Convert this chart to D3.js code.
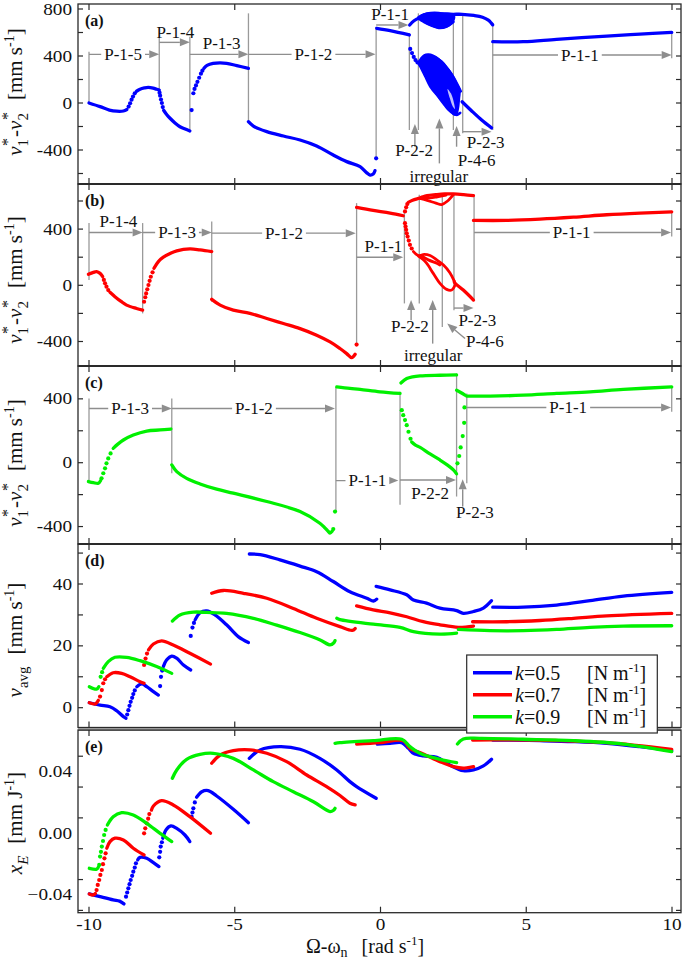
<!DOCTYPE html>
<html><head><meta charset="utf-8">
<script src="https://cdn.jsdelivr.net/npm/d3@7"></script>
<style>body{margin:0;background:#fff}svg{display:block}text{font-family:"Liberation Serif","Times New Roman",serif;fill:#111}</style>
</head><body><svg id="c" width="685" height="959"></svg>
<script>
// ---------------- DATA ----------------
const xTickVals = [-10, -5, 0, 5, 10];
const xTickLabels = ["-10", "-5", "0", "5", "10"];

// Panel (a) k=0.5
const aL1 = [[-10,0],[-9.62,-31],[-9.3,-60],[-9.05,-70],[-8.82,-68],[-8.7,-55]];
const aD1 = [[-8.64,-30],[-8.59,-2],[-8.54,28],[-8.49,55],[-8.43,82]];
const aL2 = [[-8.37,100],[-8.25,117],[-8.1,128],[-7.97,133],[-7.8,127],[-7.68,117],[-7.59,110]];
const aD2 = [[-7.58,88],[-7.56,62],[-7.53,30],[-7.5,0],[-7.47,-35]];
const aL3 = [[-7.44,-62],[-7.33,-100],[-7.22,-130],[-7.05,-170],[-6.88,-202],[-6.7,-222],[-6.54,-238]];
const aD3 = [[-6.48,-60],[-6.42,83],[-6.38,120],[-6.33,150],[-6.28,180],[-6.22,215],[-6.16,250],[-6.11,275]];
const aL4 = [[-6.06,295],[-5.95,320],[-5.74,338],[-5.5,342],[-5.28,338],[-4.93,318],[-4.53,295]];
const aL5 = [[-4.53,-159],[-4.36,-196],[-3.9,-244],[-3.33,-281],[-2.76,-315],[-2.19,-366],[-1.62,-443],[-1.16,-499],[-0.7,-542],[-0.47,-595],[-0.36,-613],[-0.25,-604],[-0.19,-576]];
const aD5 = [[-0.15,-471]];
const aL6 = [[-0.13,635],[0.33,615],[0.99,579]];
const aL7 = [[1.0,664],[1.15,700],[1.35,725],[1.7,745],[2.1,755],[2.5,755],[2.8,755],[3.2,745],[3.5,730],[3.7,705],[3.8,680],[3.85,665]];
const aUfill = [[1.3,722],[1.5,755],[1.8,764],[2.1,764],[2.4,758],[2.52,745],[2.5,700],[2.35,660],[2.15,640],[1.95,642],[1.7,665],[1.45,700]];
const aU1 = [[1.3,720],[1.5,690],[1.75,660],[2.0,640],[2.25,650],[2.5,690]];
const aU2 = [[1.3,728],[1.6,760],[2.0,765],[2.3,745],[2.5,725]];
const aU3 = [[1.4,705],[1.8,725],[2.2,700],[2.5,740]];
const aU4 = [[1.4,740],[1.8,685],[2.2,672],[2.45,705]];
const aD6 = [[1.02,460],[1.08,425],[1.14,392],[1.2,365],[1.27,345]];
const aCfill = [[1.3,338],[1.4,385],[1.5,408],[1.65,414],[1.8,404],[2.0,374],[2.2,325],[2.35,280],[2.5,222],[2.61,165],[2.72,108],[2.7,40],[2.66,-50],[2.6,-98],[2.5,-94],[2.44,-74],[2.21,-3],[1.93,68],[1.7,139],[1.53,224],[1.38,300]];
const aCgap = [[2.3,120],[2.42,80],[2.52,0],[2.55,-50],[2.48,-30],[2.38,40]];
const aC1 = [[1.33,338],[1.5,390],[1.65,405],[1.85,390],[2.1,350],[2.3,290],[2.5,220],[2.65,150],[2.75,100]];
const aC2 = [[1.35,330],[1.55,260],[1.75,170],[1.95,70],[2.15,0],[2.35,-60],[2.5,-90],[2.62,-100],[2.73,-85]];
const aL8 = [[2.8,11],[3.13,-68],[3.47,-145],[3.81,-212]];
const aL9 = [[3.85,522],[4.9,522],[6.04,542],[7.76,570],[8.9,587],[9.99,601]];

// Panel (b) k=0.7
const bL1 = [[-10.02,78],[-9.85,92],[-9.74,97],[-9.62,85],[-9.53,61]];
const bD1 = [[-9.49,38],[-9.45,14],[-9.4,-10],[-9.34,-34]];
const bL2 = [[-9.28,-50],[-9.11,-81],[-8.9,-115],[-8.71,-141],[-8.37,-165],[-8.16,-177]];
const bD2 = [[-8.11,-117],[-8.07,-85],[-8.04,-58],[-8.0,-28],[-7.96,2],[-7.92,32],[-7.88,61],[-7.82,92]];
const bL3 = [[-7.77,121],[-7.62,169],[-7.45,200],[-7.2,228],[-6.99,245],[-6.54,259],[-6.19,252],[-5.79,240]];
const bL4 = [[-5.79,-100],[-5.5,-141],[-5.05,-177],[-4.48,-200],[-3.9,-236],[-3.33,-272],[-2.76,-308],[-2.19,-355],[-1.73,-403],[-1.39,-450],[-1.16,-486],[-0.99,-515],[-0.87,-491]];
const bD4 = [[-0.82,-422]];
const bL5 = [[-0.82,554],[-0.25,533],[0.33,514],[0.78,495]];
const bD5 = [[0.84,526],[0.88,555],[0.92,578]];
const bL6 = [[0.95,590],[1.1,605],[1.35,621],[1.6,638],[1.9,645],[2.2,650],[2.5,650],[2.85,645],[3.19,638]];
const bU1 = [[1.35,618],[1.6,605],[1.9,585],[2.1,575],[2.3,600],[2.5,645]];
const bU2 = [[1.4,628],[1.7,622],[1.95,630],[2.25,642]];
const bD6 = [[0.84,442],[0.86,418],[0.88,395],[0.9,370],[0.93,347],[0.97,318],[1.01,288],[1.07,262]];
const bC1 = [[1.13,240],[1.3,212],[1.5,220],[1.7,212],[1.93,181],[2.16,145],[2.38,90],[2.53,30]];
const bC2 = [[1.3,208],[1.45,185],[1.58,157],[1.81,85],[2.04,14],[2.27,-29],[2.44,-34],[2.56,2]];
const bC3 = [[1.38,212],[1.64,181],[1.93,157],[2.04,145]];
const bL7 = [[2.53,26],[2.56,14],[2.84,-34],[3.19,-105]];
const bL8 = [[3.19,462],[4.33,462],[5.47,471],[6.62,485],[7.76,502],[8.9,514],[9.99,523]];

// Panel (c) k=0.9
const cL1 = [[-10.02,-118],[-9.85,-125],[-9.68,-129],[-9.6,-112]];
const cD1 = [[-9.57,-98],[-9.51,-66],[-9.45,-35],[-9.4,-4],[-9.34,27],[-9.26,58]];
const cL2 = [[-9.17,90],[-9.0,118],[-8.82,142],[-8.48,173],[-8.02,198],[-7.56,205],[-7.19,211]];
const cL3 = [[-7.16,-14],[-6.99,-56],[-6.65,-98],[-6.19,-133],[-5.62,-166],[-5.05,-191],[-3.9,-243],[-2.76,-306],[-2.08,-379],[-1.9,-410],[-1.79,-431],[-1.73,-441],[-1.66,-430]];
const cD3 = [[-1.62,-416],[-1.56,-306]];
const cL4 = [[-1.5,475],[-1.05,465],[-0.7,459],[-0.02,444],[0.67,434]];
const cL5 = [[0.7,500],[0.9,527],[1.1,538],[1.36,544],[2.04,548],[2.61,550]];
const cD5 = [[0.73,329],[0.78,298],[0.84,267],[0.9,235],[0.96,194],[1.03,150]];
const cL6 = [[1.07,130],[1.2,110],[1.36,96],[1.7,55],[2.04,17],[2.3,-15],[2.5,-45],[2.61,-70]];
const cL7 = [[2.61,454],[2.75,440],[2.9,423]];
const cD7 = [[2.64,-4],[2.7,42],[2.75,96],[2.82,167],[2.87,250],[2.88,346]];
const cL8 = [[2.96,417],[3.76,417],[4.9,423],[6.04,434],[7.19,444],[8.33,459],[9.99,475]];

// Panel (d) v_avg
const dB1 = [[-9.99,1.6],[-9.62,0.86],[-9.28,0.32],[-9.05,-0.98],[-8.82,-2.9],[-8.73,-3.4]];
const dBd1 = [[-8.69,-2.2],[-8.65,-0.8],[-8.61,0.6],[-8.57,1.9],[-8.52,3.2],[-8.48,4.4],[-8.43,5.6]];
const dB2 = [[-8.36,6.8],[-8.19,7.7],[-8.02,6.8],[-7.79,5.2],[-7.62,4.1]];
const dBd2 = [[-7.56,7.0],[-7.53,10.0],[-7.49,12.0]];
const dB3 = [[-7.45,13.3],[-7.34,15.4],[-7.16,16.7],[-6.99,16.0],[-6.76,13.8],[-6.51,12.2]];
const dBd3 = [[-6.51,23.2],[-6.45,25.9],[-6.4,27.4]];
const dB4 = [[-6.36,28.4],[-6.19,30.7],[-5.96,31.3],[-5.68,30.0],[-5.28,26.8],[-4.88,23.0],[-4.53,21.1]];
const dB5 = [[-4.5,49.7],[-4.13,49.5],[-3.45,47.8],[-2.76,45.8],[-2.19,44.0],[-1.62,40.8],[-1.05,37.5],[-0.47,35.4],[-0.24,34.5],[-0.13,35.1]];
const dB6 = [[-0.15,39.2],[0.33,38.1],[0.9,36.5],[1.13,34.8],[1.58,33.8],[2.04,32.2],[2.61,31.4],[2.84,30.5],[3.19,31.1],[3.53,32.2],[3.81,34.6]];
const dB7 = [[3.85,32.5],[4.9,32.5],[6.04,33.2],[7.19,34.6],[8.33,36.1],[9.99,37.3]];
const dR1 = [[-9.99,1.6],[-9.79,1.2],[-9.74,1.6],[-9.68,2.4]];
const dRd1 = [[-9.62,3.6],[-9.56,5.7],[-9.51,7.9],[-9.45,9.2]];
const dR2 = [[-9.39,10.0],[-9.17,11.3],[-8.88,11.1],[-8.59,10.0],[-8.25,8.4],[-8.11,7.9]];
const dRd2 = [[-8.11,13.8],[-8.06,15.9],[-8.01,17.5]];
const dR3 = [[-7.96,18.7],[-7.79,20.6],[-7.51,21.6],[-7.11,20.3],[-6.54,17.6],[-5.83,14.1]];
const dR4 = [[-5.79,37.0],[-5.39,37.9],[-4.7,37.0],[-3.9,35.4],[-2.99,32.1],[-2.19,28.9],[-1.39,26.2],[-0.97,25.0],[-0.87,25.6]];
const dR5 = [[-0.82,32.9],[-0.25,31.6],[0.33,30.7],[0.9,29.4],[1.47,27.8],[2.04,26.8],[2.67,26.0],[3.19,26.4]];
const dR6 = [[3.16,27.8],[4.33,27.8],[5.47,28.2],[6.62,28.9],[7.76,29.7],[9.99,30.5]];
const dG1 = [[-9.99,6.8],[-9.74,6.0],[-9.66,6.8]];
const dGd1 = [[-9.6,10.0],[-9.55,11.5]];
const dG2 = [[-9.51,12.7],[-9.34,14.9],[-9.11,16.3],[-8.71,16.3],[-8.25,15.2],[-7.68,13.3],[-7.16,11.1]];
const dG3 = [[-7.14,28.0],[-6.88,30.0],[-6.42,30.9],[-5.96,30.8],[-5.28,30.5],[-4.36,28.9],[-3.56,26.7],[-2.76,24.3],[-2.07,21.9],[-1.73,20.3],[-1.6,21.0],[-1.56,21.7]];
const dG4 = [[-1.5,28.9],[-1.39,28.5],[-0.25,27.0],[0.67,26.0],[1.13,24.6],[2.04,23.8],[2.61,24.1]];
const dG5 = [[2.67,25.3],[3.76,24.9],[4.9,24.9],[6.04,25.3],[7.19,26.0],[8.33,26.4],[9.99,26.5]];

// Panel (e) x_E
const eB1 = [[-9.99,-0.0393],[-9.62,-0.0411],[-9.17,-0.0432],[-8.95,-0.044],[-8.8,-0.0458]];
const eBd1 = [[-8.73,-0.0411],[-8.69,-0.0384],[-8.65,-0.0357],[-8.61,-0.033],[-8.57,-0.0303],[-8.52,-0.0276],[-8.48,-0.0249],[-8.43,-0.0222],[-8.39,-0.0195]];
const eB2 = [[-8.33,-0.0172],[-8.25,-0.0156],[-8.02,-0.0162],[-7.79,-0.019],[-7.6,-0.0216]];
const eBd2 = [[-7.59,-0.0156],[-7.56,-0.012],[-7.54,-0.0086],[-7.5,-0.0058]];
const eB3 = [[-7.47,-0.0032],[-7.36,0.0022],[-7.19,0.0048],[-6.99,0.0032],[-6.71,-0.0011],[-6.54,-0.0054]];
const eBd3 = [[-6.48,0.0108],[-6.45,0.0135],[-6.42,0.0162],[-6.37,0.02]];
const eB4 = [[-6.31,0.0234],[-6.13,0.027],[-5.91,0.0277],[-5.62,0.0242],[-5.05,0.0156],[-4.53,0.0069]];
const eB5 = [[-4.5,0.0486],[-4.13,0.0541],[-3.45,0.0562],[-2.76,0.0545],[-2.08,0.0486],[-1.5,0.0411],[-1.05,0.0335],[-0.82,0.0303],[-0.15,0.0227]];
const eB6 = [[-0.11,0.0579],[0.33,0.0584],[0.73,0.0588],[0.96,0.0551],[1.13,0.0519],[1.47,0.0502],[1.93,0.0493],[2.38,0.0443],[2.84,0.0406],[3.19,0.0411],[3.53,0.0437],[3.81,0.048]];
const eB7 = [[3.85,0.0605],[4.33,0.0605],[5.47,0.0601],[6.62,0.0595],[7.76,0.0584],[8.9,0.0562],[9.99,0.0536]];
const eR1 = [[-9.99,-0.0393],[-9.85,-0.04],[-9.78,-0.039]];
const eRd1 = [[-9.74,-0.0368],[-9.7,-0.0335],[-9.65,-0.0303],[-9.61,-0.027],[-9.56,-0.0238],[-9.52,-0.02],[-9.47,-0.0162],[-9.43,-0.013]];
const eR2 = [[-9.39,-0.0097],[-9.28,-0.0054],[-9.11,-0.0032],[-8.82,-0.0043],[-8.48,-0.0097],[-8.11,-0.0141]];
const eRd2 = [[-8.11,0.0],[-8.07,0.0032],[-8.02,0.0065],[-7.97,0.0095],[-7.93,0.0125]];
const eR3 = [[-7.86,0.015],[-7.79,0.0177],[-7.51,0.0212],[-7.11,0.0184],[-6.54,0.0108],[-5.83,0.0]];
const eR4 = [[-5.79,0.0454],[-5.5,0.0508],[-5.05,0.0536],[-4.48,0.0541],[-3.9,0.0519],[-3.22,0.0465],[-2.53,0.0378],[-1.85,0.0303],[-1.39,0.0245],[-1.05,0.0195],[-0.87,0.0184]];
const eR5 = [[-0.82,0.0579],[-0.02,0.0588],[0.78,0.0601],[1.01,0.0551],[1.47,0.0515],[2.04,0.0465],[2.5,0.0432],[2.84,0.0422],[3.19,0.0432]];
const eR6 = [[3.16,0.0605],[4.33,0.0606],[6.0,0.0602],[7.76,0.0588],[9.99,0.0545]];
const eG1 = [[-9.99,-0.0227],[-9.74,-0.0233],[-9.68,-0.022]];
const eGd1 = [[-9.65,-0.0205],[-9.62,-0.0151],[-9.59,-0.012],[-9.56,-0.0086],[-9.52,-0.005],[-9.48,-0.0011],[-9.43,0.0022]];
const eG2 = [[-9.37,0.0054],[-9.17,0.0108],[-8.88,0.0134],[-8.48,0.0119],[-8.02,0.0065],[-7.56,0.0],[-7.16,-0.0054]];
const eG3 = [[-7.14,0.0357],[-6.99,0.0411],[-6.65,0.048],[-6.19,0.0512],[-5.74,0.0519],[-5.05,0.0486],[-4.36,0.0411],[-3.68,0.0335],[-2.99,0.027],[-2.3,0.0205],[-1.73,0.0141],[-1.62,0.0148],[-1.56,0.0162]];
const eG4 = [[-1.56,0.0584],[-1.39,0.0588],[-0.25,0.0601],[0.73,0.061],[1.01,0.0562],[1.35,0.0519],[2.04,0.048],[2.61,0.0458]];
const eG5 = [[2.64,0.0579],[2.84,0.0612],[3.41,0.0616],[4.9,0.061],[6.62,0.0601],[8.33,0.0579],[9.99,0.053]];

// Annotations: vertical guide lines [x, vTop, vBottom]
const aVlines = [[-10,437,0],[-7.59,564,82],[-6.54,564,-244],[-4.53,763,-173],[-0.15,650,-485],[0.99,593,-230],[1.30,763,-230],[2.50,763,-230],[2.82,763,-258],[3.85,678,-230],[9.99,593,380]];
const bVlines = [[-10,443,38],[-8.16,443,-200],[-5.79,454,-117],[-0.82,585,-415],[0.82,514,-129],[1.33,645,-129],[2.12,645,-296],[2.52,645,-177],[3.21,645,-105],[9.99,526,347]];
const cVlines = [[-10,402,-118],[-7.16,402,-66],[-1.53,475,-306],[0.67,444,-264],[2.61,559,-212],[2.96,434,-129],[9.99,479,319]];
// arrows [x1, v1, x2, v2]
const aArrows = [[-10,414,-7.59,414],[-7.59,516,-6.54,516],[-6.54,414,-4.53,414],[-4.53,414,-0.17,414],[-0.15,664,0.96,664],[2.82,-244,3.81,-244],[3.85,408,9.99,408],[1.18,-372,1.18,-179],[2.02,-514,2.02,-131],[2.61,-372,2.61,-196]];
const bArrows = [[-10,376,-8.16,376],[-8.16,376,-5.79,376],[-5.79,371,-0.85,371],[-0.82,200,0.78,200],[2.52,-162,3.19,-162],[3.21,376,9.97,376],[1.05,-248,1.05,-105],[1.79,-415,1.79,-105],[2.9,-379,2.29,-272]];
const cArrows = [[-10,340,-7.16,340],[-7.16,340,-1.56,340],[-1.53,-112,0.61,-112],[0.67,-108,2.59,-108],[2.82,-275,2.82,-104],[2.96,346,9.97,346]];
// labels [text, x, v, masked]
const aLabels = [["P-1-5",-8.83,414,1],["P-1-4",-7.04,603,0],["P-1-3",-5.45,508,0],["P-1-2",-2.3,414,1],["P-1-1",0.33,749,0],["P-2-2",1.15,-406,0],["irregular",2.0,-622,0],["P-4-6",3.3,-492,0],["P-2-3",3.61,-335,0],["P-1-1",6.84,408,1]];
const bLabels = [["P-1-4",-8.99,454,0],["P-1-3",-6.98,376,1],["P-1-2",-3.31,371,1],["P-1-1",0.10,276,0],["P-2-2",1.01,-296,0],["irregular",1.81,-498,0],["P-4-6",3.58,-403,0],["P-2-3",3.32,-248,0],["P-1-1",6.56,376,1]];
const cLabels = [["P-1-3",-8.59,340,1],["P-1-2",-4.34,340,1],["P-1-1",-0.45,-112,1],["P-2-2",1.70,-191,0],["P-2-3",3.24,-310,0],["P-1-1",6.44,346,1]];

const legendKeys = ["k=0.5", "k=0.7", "k=0.9"];

// ---------------- DRAWING ----------------
const BLUE = "#0000ff", RED = "#ff0000", GREEN = "#00f000", GRAY = "#8e8e8e", DARK = "#2a2a2a";
const svg = d3.select("#c");
const x = d3.scaleLinear().domain([-10, 10]).range([89, 672]);
const X0 = 78, X1 = 681;

const S = (d, k, c) => ({d, k, c});
const titleV = [{t:"ν",i:1},{t:"1",s:6,fs:15},{t:"*",s:-9,dx:-7,fs:16},{t:"-",s:0,dx:1},{t:"ν",i:1},{t:"2",s:6,fs:15},{t:"*",s:-9,dx:-7,fs:16},{t:"[mm s",s:0,dx:12},{t:"-1",s:-8,fs:14},{t:"]",s:0}];
const panels = [
  {id:"(a)", top:4, bottom:184, cal:[[0,103],[400,56]], yLab:[-400,0,400,800], yTick:d3.range(-600,801,200), fmt:d=>String(d), tcy:92, title:titleV,
   series:[S(aL1,"L",BLUE),S(aD1,"D",BLUE),S(aL2,"L",BLUE),S(aD2,"D",BLUE),S(aL3,"L",BLUE),S(aD3,"D",BLUE),S(aL4,"L",BLUE),S(aL5,"L",BLUE),S(aD5,"D",BLUE),S(aL6,"L",BLUE),S(aL7,"L",BLUE),S(aUfill,"F",BLUE),S(aU1,"C",BLUE),S(aU2,"C",BLUE),S(aU3,"C",BLUE),S(aU4,"C",BLUE),S(aD6,"D",BLUE),S(aCfill,"F",BLUE),S(aC1,"C",BLUE),S(aC2,"C",BLUE),S(aCgap,"W","#ffffff"),S(aL8,"L",BLUE),S(aL9,"L",BLUE)],
   vl:aVlines, ar:aArrows, lb:aLabels},
  {id:"(b)", top:184, bottom:366, cal:[[0,285.3],[400,229.1]], yLab:[-400,0,400], yTick:d3.range(-400,601,200), fmt:d=>String(d), tcy:280, title:titleV,
   series:[S(bL1,"L",RED),S(bD1,"D",RED),S(bL2,"L",RED),S(bD2,"D",RED),S(bL3,"L",RED),S(bL4,"L",RED),S(bD4,"D",RED),S(bL5,"L",RED),S(bD5,"D",RED),S(bL6,"L",RED),S(bU1,"C",RED),S(bU2,"C",RED),S(bD6,"D",RED),S(bC1,"C",RED),S(bC2,"C",RED),S(bC3,"C",RED),S(bL7,"L",RED),S(bL8,"L",RED)],
   vl:bVlines, ar:bArrows, lb:bLabels},
  {id:"(c)", top:366, bottom:544, cal:[[0,462.7],[400,398.85]], yLab:[-400,0,400], yTick:d3.range(-400,401,200), fmt:d=>String(d), tcy:463, title:titleV,
   series:[S(cL1,"L",GREEN),S(cD1,"D",GREEN),S(cL2,"L",GREEN),S(cL3,"L",GREEN),S(cD3,"D",GREEN),S(cL4,"L",GREEN),S(cL5,"L",GREEN),S(cD5,"D",GREEN),S(cL6,"L",GREEN),S(cL7,"L",GREEN),S(cD7,"D",GREEN),S(cL8,"L",GREEN)],
   vl:cVlines, ar:cArrows, lb:cLabels},
  {id:"(d)", top:544, bottom:727.5, cal:[[0,707.7],[20,645.85]], yLab:[0,20,40], yTick:d3.range(0,51,10), fmt:d=>String(d), tcy:640,
   title:[{t:"ν",i:1},{t:"avg",s:6,fs:15},{t:"[mm s",s:0,dx:12},{t:"-1",s:-8,fs:14},{t:"]",s:0}],
   series:[S(dB1,"L",BLUE),S(dBd1,"D",BLUE),S(dB2,"L",BLUE),S(dBd2,"D",BLUE),S(dB3,"L",BLUE),S(dBd3,"D",BLUE),S(dB4,"L",BLUE),S(dB5,"L",BLUE),S(dB6,"L",BLUE),S(dB7,"L",BLUE),
           S(dR1,"L",RED),S(dRd1,"D",RED),S(dR2,"L",RED),S(dRd2,"D",RED),S(dR3,"L",RED),S(dR4,"L",RED),S(dR5,"L",RED),S(dR6,"L",RED),
           S(dG1,"L",GREEN),S(dGd1,"D",GREEN),S(dG2,"L",GREEN),S(dG3,"L",GREEN),S(dG4,"L",GREEN),S(dG5,"L",GREEN)],
   vl:[], ar:[], lb:[]},
  {id:"(e)", top:730, bottom:912.7, cal:[[0,833.3],[0.04,771.63]], yLab:[-0.04,0,0.04], yTick:[-0.05,-0.03,-0.01,0.01,0.03,0.05], fmt:d3.format(".2f"), tcy:823,
   title:[{t:"x",i:1},{t:"E",s:6,fs:15,i:1},{t:"[mm J",s:0,dx:12},{t:"-1",s:-8,fs:14},{t:"]",s:0}],
   series:[S(eB1,"L",BLUE),S(eBd1,"D",BLUE),S(eB2,"L",BLUE),S(eBd2,"D",BLUE),S(eB3,"L",BLUE),S(eBd3,"D",BLUE),S(eB4,"L",BLUE),S(eB5,"L",BLUE),S(eB6,"L",BLUE),S(eB7,"L",BLUE),
           S(eR1,"L",RED),S(eRd1,"D",RED),S(eR2,"L",RED),S(eRd2,"D",RED),S(eR3,"L",RED),S(eR4,"L",RED),S(eR5,"L",RED),S(eR6,"L",RED),
           S(eG1,"L",GREEN),S(eGd1,"D",GREEN),S(eG2,"L",GREEN),S(eG3,"L",GREEN),S(eG4,"L",GREEN),S(eG5,"L",GREEN)],
   vl:[], ar:[], lb:[]}
];

function rich(sel, parts) {
  let cur = 0;
  parts.forEach(p => {
    const ts = sel.append("tspan").text(p.t);
    const target = p.s || 0;
    if (target !== cur) ts.attr("dy", target - cur);
    cur = target;
    if (p.dx) ts.attr("dx", p.dx);
    if (p.i) ts.attr("font-style", "italic");
    if (p.fs) ts.attr("font-size", p.fs);
  });
}

function arrow(g, x1, y1, x2, y2) {
  const ang = Math.atan2(y2 - y1, x2 - x1), L = 10, W = 4;
  const bx = x2 - L * Math.cos(ang), by = y2 - L * Math.sin(ang);
  g.append("line").attr("x1", x1).attr("y1", y1).attr("x2", bx).attr("y2", by)
    .attr("stroke", GRAY).attr("stroke-width", 1.4);
  const px = -Math.sin(ang) * W, py = Math.cos(ang) * W;
  g.append("path").attr("d", `M${x2},${y2}L${bx + px},${by + py}L${bx - px},${by - py}Z`).attr("fill", GRAY);
}

const labelLayer = svg.append("g").attr("id", "ylabels");

panels.forEach(p => {
  const y = d3.scaleLinear().domain([p.cal[0][0], p.cal[1][0]]).range([p.cal[0][1], p.cal[1][1]]);
  const g = svg.append("g");
  const clipId = "clip" + p.id.replace(/\W/g, "");
  svg.append("clipPath").attr("id", clipId).append("rect")
    .attr("x", X0).attr("y", p.top).attr("width", X1 - X0).attr("height", p.bottom - p.top);

  const an = g.append("g");
  p.vl.forEach(v => an.append("line").attr("x1", x(v[0])).attr("x2", x(v[0]))
    .attr("y1", y(v[1])).attr("y2", y(v[2])).attr("stroke", "#9a9a9a").attr("stroke-width", 1.3));
  p.ar.forEach(a => arrow(an, x(a[0]), y(a[1]), x(a[2]), y(a[3])));

  const dg = g.append("g").attr("clip-path", `url(#${clipId})`);
  const line = d3.line().x(d => x(d[0])).y(d => y(d[1])).curve(d3.curveCatmullRom.alpha(0.5));
  const area = d3.line().x(d => x(d[0])).y(d => y(d[1])).curve(d3.curveCatmullRomClosed.alpha(0.5));
  p.series.forEach(s => {
    if (s.k === "D") {
      dg.append("g").selectAll("circle").data(s.d).join("circle")
        .attr("cx", d => x(d[0])).attr("cy", d => y(d[1])).attr("r", 2.1).attr("fill", s.c);
    } else if (s.k === "F") {
      dg.append("path").attr("d", area(s.d)).attr("fill", s.c).attr("stroke", s.c).attr("stroke-width", 2);
    } else if (s.k === "W") {
      dg.append("path").attr("d", area(s.d)).attr("fill", s.c).attr("fill-opacity", 0.75);
    } else {
      dg.append("path").attr("d", line(s.d)).attr("fill", "none").attr("stroke", s.c)
        .attr("stroke-width", s.k === "C" ? 2.8 : 3.3).attr("stroke-linecap", "round").attr("stroke-linejoin", "round");
    }
  });

  p.lb.forEach(l => {
    const t = g.append("text").attr("x", x(l[1])).attr("y", y(l[2])).attr("text-anchor", "middle")
      .attr("dominant-baseline", "central").attr("font-size", 17).text(l[0]);
    if (l[3]) {
      const bb = t.node().getBBox();
      g.insert("rect", () => t.node()).attr("x", bb.x - 3).attr("y", bb.y + 3).attr("width", bb.width + 6)
        .attr("height", bb.height - 6).attr("fill", "#fff");
    }
  });

  g.append("rect").attr("x", X0).attr("y", p.top).attr("width", X1 - X0).attr("height", p.bottom - p.top)
    .attr("fill", "none").attr("stroke", DARK).attr("stroke-width", 1.3);

  p.yTick.forEach(v => {
    const yy = y(v);
    if (yy < p.top + 2 || yy > p.bottom - 2) return;
    g.append("line").attr("x1", X0).attr("x2", X0 + 5).attr("y1", yy).attr("y2", yy).attr("stroke", DARK).attr("stroke-width", 1.2);
    g.append("line").attr("x1", X1 - 5).attr("x2", X1).attr("y1", yy).attr("y2", yy).attr("stroke", DARK).attr("stroke-width", 1.2);
  });
  p.yLab.forEach(v => {
    labelLayer.append("text").attr("transform", `translate(72,${y(v) + 5.5}) scale(1.2,1)`).attr("text-anchor", "end")
      .attr("font-size", 16).text(p.fmt(v));
  });
  xTickVals.forEach(v => {
    g.append("line").attr("x1", x(v)).attr("x2", x(v)).attr("y1", p.top).attr("y2", p.top + 6).attr("stroke", DARK).attr("stroke-width", 1.2);
    g.append("line").attr("x1", x(v)).attr("x2", x(v)).attr("y1", p.bottom - 6).attr("y2", p.bottom).attr("stroke", DARK).attr("stroke-width", 1.2);
  });

  g.append("text").attr("x", 85).attr("y", p.top + 22).attr("font-size", 16).attr("font-weight", "bold").text(p.id);

  const tt = g.append("text").attr("transform", `translate(22,${p.tcy}) rotate(-90)`).attr("text-anchor", "middle").attr("font-size", 21);
  rich(tt, p.title);
});
labelLayer.raise();

[184, 366, 544].forEach(yy => svg.append("line").attr("x1", X0).attr("x2", X1).attr("y1", yy).attr("y2", yy).attr("stroke", DARK).attr("stroke-width", 2.2));
svg.append("rect").attr("x", X0).attr("y", 727.5).attr("width", X1 - X0).attr("height", 2.5).attr("fill", "#9a9a9a");
[727.5, 730].forEach(yy => svg.append("line").attr("x1", X0).attr("x2", X1).attr("y1", yy).attr("y2", yy).attr("stroke", DARK).attr("stroke-width", 1.2));

xTickVals.forEach((v, i) => svg.append("text").attr("transform", `translate(${x(v)},930) scale(1.2,1)`)
  .attr("text-anchor", "middle").attr("font-size", 16).text(xTickLabels[i]));
const xt = svg.append("text").attr("x", 365).attr("y", 953).attr("text-anchor", "middle").attr("font-size", 20);
rich(xt, [{t:"Ω-ω"},{t:"n",s:4,fs:14},{t:"[rad s",s:0,dx:14},{t:"-1",s:-8,fs:13},{t:"]",s:0}]);

const lg = svg.append("g");
lg.append("rect").attr("x", 466.7).attr("y", 655).attr("width", 190.6).attr("height", 78)
  .attr("fill", "#fff").attr("stroke", DARK).attr("stroke-width", 1.2);
const legColors = [BLUE, RED, GREEN];
legendKeys.forEach((k, i) => {
  const yy = 672.7 + i * 22;
  lg.append("line").attr("x1", 473).attr("x2", 512).attr("y1", yy).attr("y2", yy).attr("stroke", legColors[i]).attr("stroke-width", 3.5);
  const t = lg.append("text").attr("x", 515).attr("y", yy + 7).attr("font-size", 20);
  rich(t, [{t:k.slice(0,1),i:1},{t:k.slice(1)}]);
  const u = lg.append("text").attr("x", 587).attr("y", yy + 7).attr("font-size", 20);
  rich(u, [{t:"[N m"},{t:"-1",s:-8,fs:13},{t:"]",s:0}]);
});
</script></body></html>
